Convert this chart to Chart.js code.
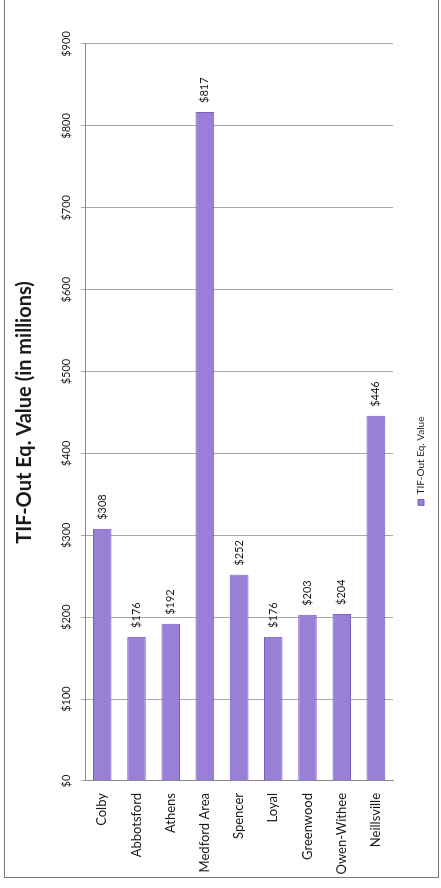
<!DOCTYPE html>
<html>
<head>
<meta charset="utf-8">
<script src="https://cdn.jsdelivr.net/npm/chart.js@4.4.1/dist/chart.umd.min.js"></script>
<style>
  html, body { margin: 0; padding: 0; background: #fff; overflow: hidden; }
  #page { position: relative; width: 441px; height: 888px; overflow: hidden; background: #fff; }
  /* the chart is laid out landscape and turned a quarter to the left */
  #turn {
    position: absolute; left: 0; top: 0; width: 888px; height: 441px;
    transform-origin: 0 0; transform: translate(0, 888px) rotate(-90deg);
  }
  #frame {
    position: absolute; left: 4px; top: -5px; width: 433px; height: 882px;
    border: 1px solid #777; border-top: none; pointer-events: none;
  }
</style>
</head>
<body>
<div id="page">
  <div id="turn"><canvas id="chart" width="888" height="441"></canvas></div>
  <div id="frame"></div>
</div>
<script>
const categories = ["Colby", "Abbotsford", "Athens", "Medford Area", "Spencer",
  "Loyal", "Greenwood", "Owen-Withee", "Neillsville"];
const tifOutValues = [308, 176, 192, 817, 252, 176, 203, 204, 446];
const seriesLabel = "TIF-Out Eq. Value";
const chartTitle = "TIF-Out Eq. Value (in millions)";
const axisMin = 0;
const axisMax = 900;
const axisStep = 100;

const textColor = "#1a1a1a";

function money(v) {
  return "$" + v;
}

// value labels just past the end of each bar
const barValueLabels = {
  id: "barValueLabels",
  afterDatasetsDraw(chart) {
    const ctx = chart.ctx;
    const meta = chart.getDatasetMeta(0);
    ctx.save();
    ctx.font = "11px Lato";
    ctx.fillStyle = textColor;
    ctx.textAlign = "left";
    ctx.textBaseline = "middle";
    meta.data.forEach(function (bar, i) {
      ctx.fillText(money(tifOutValues[i]), bar.x + 9, bar.y);
    });
    ctx.restore();
  }
};

new Chart(document.getElementById("chart"), {
  type: "bar",
  data: {
    labels: categories,
    datasets: [{
      label: seriesLabel,
      data: tifOutValues,
      backgroundColor: "#9980d6",
      borderColor: "#7a5dc2",
      borderWidth: 1,
      categoryPercentage: 0.8,
      barPercentage: 0.68
    }]
  },
  options: {
    indexAxis: "y",
    responsive: false,
    animation: false,
    devicePixelRatio: 1,
    layout: { padding: { left: 10, right: 44, top: 0, bottom: 5 } },
    plugins: {
      title: {
        display: true,
        text: chartTitle,
        fullSize: false,
        color: textColor,
        font: { family: "Lato", size: 20, weight: "bold" },
        padding: { top: 13, bottom: 15 }
      },
      legend: {
        position: "bottom",
        labels: {
          color: textColor,
          font: { family: "Lato", size: 10 },
          boxWidth: 6,
          boxHeight: 6,
          padding: 23
        }
      },
      tooltip: { enabled: false }
    },
    scales: {
      x: {
        position: "top",
        min: axisMin,
        max: axisMax,
        ticks: {
          stepSize: axisStep,
          callback: money,
          color: textColor,
          font: { family: "Lato", size: 11 },
          padding: 8
        },
        grid: { color: "#a8a8a8", tickLength: 4 },
        border: { color: "#8a8a8a" }
      },
      y: {
        grid: { display: false, drawTicks: false },
        border: { display: true, color: "#8a8a8a" },
        ticks: {
          color: textColor,
          font: { family: "Lato", size: 13 },
          padding: 12
        },
        afterFit: function (scale) {
          scale.width = 97;
        }
      }
    }
  },
  plugins: [barValueLabels]
});
</script>
</body>
</html>
